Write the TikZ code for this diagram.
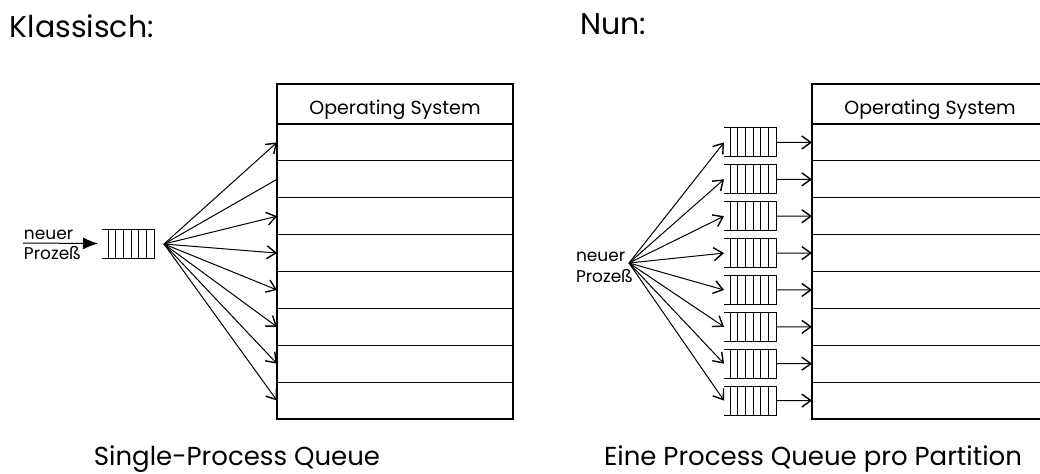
\documentclass[tikz,border=0pt]{standalone}
\usepackage{fontspec}
\setmainfont{Poppins}
\usetikzlibrary{arrows.meta,calc,positioning}
\tikzset{>={Straight Barb[length=4.5pt,width=6.5pt,line width=0.7pt]}}
\tikzset{every node/.style={inner sep=0pt, outer sep=0pt}}
\tikzset{
  row/.style={draw, line width=0.6pt, minimum width=118pt, minimum height=18.44pt},
  osrow/.style={row, minimum height=20pt, text height=10pt, text depth=0pt,
    font=\fontsize{9.5}{11}\selectfont},
  queue/.style={minimum width=26pt, minimum height=14.5pt},
  title/.style={font=\fontsize{15}{18}\selectfont, anchor=base west},
  caption/.style={font=\fontsize{13}{16}\selectfont, anchor=base},
  small/.style={font=\fontsize{8.5}{10}\selectfont, anchor=base west}
}
% open queue: top, bottom, closed end and slots
\newcommand{\queuelines}[1]{%
  \draw (#1.north west) -- (#1.north east) -- (#1.south east) -- (#1.south west);
  \foreach \k in {0,...,5}
    \draw ($(#1.north west)+(6+7.7*\k,0)$) -- ($(#1.south west)+(6+7.7*\k,0)$);
}

\begin{document}
\begin{tikzpicture}[x=0.5pt,y=-0.5pt,line width=0.5pt]
  \clip (0,0) rectangle (1040,473);
  \node[title] (klass) at (10,37) {Klassisch:};
  \node[title] (nun) at (580,34) {Nun:};

  % classic: one queue
  \node[osrow, anchor=north west] (osL) at (277,84) {Operating System};
  \foreach \i in {1,...,8}
    \node[row, anchor=north west] (pL\i) at (277,{124+(\i-1)*36.875}) {};
  \node[queue] (qL) at (128,243.5) {};
  \queuelines{qL}
  \coordinate (inL) at (23,243);
  \coordinate (fanL) at (164,244);
  \draw[-{Latex[length=7.5pt,width=6pt]}] (inL) -- ([xshift=-2pt]qL.west);
  \node[small] (neuL) at (24,239) {neuer};
  \node[small] (proL) at (24,259) {Prozeß};
  \foreach \i/\tip in {1/->,2/-,3/->,4/->,5/->,6/->,7/->,8/->}
    \draw[\tip] (fanL) -- (pL\i.west);
  \node[caption] (capL) at (237,465) {Single-Process Queue};

  % now: one queue per partition
  \coordinate (fanR) at (629,263);
  \node[small] (neuR) at (576,261) {neuer};
  \node[small] (proR) at (576,282) {Prozeß};
  \node[osrow, anchor=north west] (osR) at (812,84) {Operating System};
  \foreach \i in {1,...,8} {
    \node[row, anchor=north west] (pR\i) at (812,{124+(\i-1)*36.875}) {};
    \node[queue] (qR\i) at (750,{124+(\i-0.5)*36.875}) {};
    \queuelines{qR\i}
    \draw[->] (qR\i.east) -- (pR\i.west);
    \draw[->] (fanR) -- (qR\i.west);
  }
  \node[caption] (capR) at (813,465) {Eine Process Queue pro Partition};
\end{tikzpicture}
\end{document}
